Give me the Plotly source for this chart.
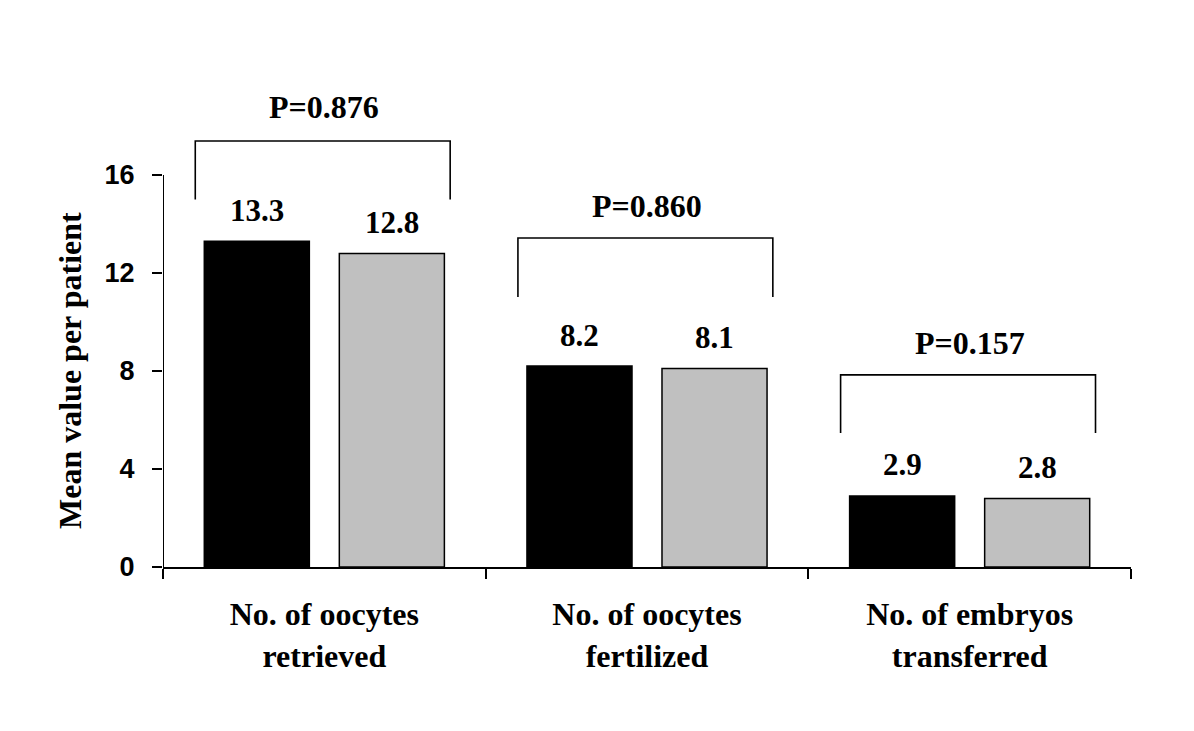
import plotly.graph_objects as go

categories = ["No. of oocytes<br>retrieved", "No. of oocytes<br>fertilized", "No. of embryos<br>transferred"]
group_a = [13.3, 8.2, 2.9]
group_b = [12.8, 8.1, 2.8]
p_values = ["P=0.876", "P=0.860", "P=0.157"]
y_ticks = [0, 4, 8, 12, 16]

# bracket geometry (layout, in data units)
bracket_top = [17.39, 13.43, 7.84]
bracket_leg = [15.0, 11.02, 5.47]
p_text_y = [18.78, 14.72, 9.15]

SERIF = "Liberation Serif, Times New Roman, serif"
SANS = "Liberation Sans, Arial, sans-serif"

fig = go.Figure()
fig.add_trace(go.Bar(x=categories, y=group_a, marker=dict(color="#000000", line=dict(color="#000000", width=1.5)), showlegend=False))
fig.add_trace(go.Bar(x=categories, y=group_b, marker=dict(color="#c0c0c0", line=dict(color="#000000", width=1.5)), showlegend=False))

shapes = []
annotations = []
off = 0.2093
for i in range(len(categories)):
    for v, dx in ((group_a[i], -off), (group_b[i], off)):
        annotations.append(dict(x=i + dx, y=v, xref="x", yref="y", text=f"<b>{v}</b>", showarrow=False,
                                yanchor="middle", yshift=31, font=dict(family=SERIF, size=31, color="black")))
    x0, x1 = i - 0.40, i + 0.39
    shapes.append(dict(type="path", xref="x", yref="y",
                       path=f"M {x0},{bracket_leg[i]} L {x0},{bracket_top[i]} L {x1},{bracket_top[i]} L {x1},{bracket_leg[i]}",
                       line=dict(color="black", width=1.6)))
    annotations.append(dict(x=i, y=p_text_y[i], xref="x", yref="y", text=f"<b>{p_values[i]}</b>", showarrow=False,
                            yanchor="middle", font=dict(family=SERIF, size=32, color="black")))

# y-axis line from 0 to 16
shapes.append(dict(type="line", xref="x", yref="y", x0=-0.5, x1=-0.5, y0=0, y1=y_ticks[-1],
                   line=dict(color="black", width=2)))

annotations.append(dict(x=-0.0961, xref="paper", y=0.402, yref="paper", text="<b>Mean value per patient</b>",
                        textangle=-90, showarrow=False, xanchor="center", yanchor="middle",
                        font=dict(family=SERIF, size=32, color="black")))

fig.update_layout(
    width=1194, height=731,
    margin=dict(l=155, r=71, t=69, b=172),
    plot_bgcolor="white", paper_bgcolor="white",
    barmode="group", bargap=0.163, bargroupgap=0.222,
    shapes=shapes, annotations=annotations,
    xaxis=dict(type="category", range=[-0.5, 2.5], showline=True, linecolor="black", linewidth=2,
               ticks="outside", tickson="boundaries", ticklen=10, tickwidth=2, tickcolor="black",
               tickfont=dict(family=SERIF, size=32, color="black"), showgrid=False, zeroline=False,
               ticklabelstandoff=18),
    yaxis=dict(range=[0, 20], showline=False, tickvals=y_ticks, ticks="outside", ticklen=10, tickwidth=2,
               tickcolor="black", tickfont=dict(family=SANS, size=27, color="black", weight="bold"),
               showgrid=False, zeroline=False, ticklabelstandoff=12),
)
fig.update_xaxes(ticktext=[f"<b>{c}</b>" for c in categories], tickvals=categories)

fig.write_html("out.html")
